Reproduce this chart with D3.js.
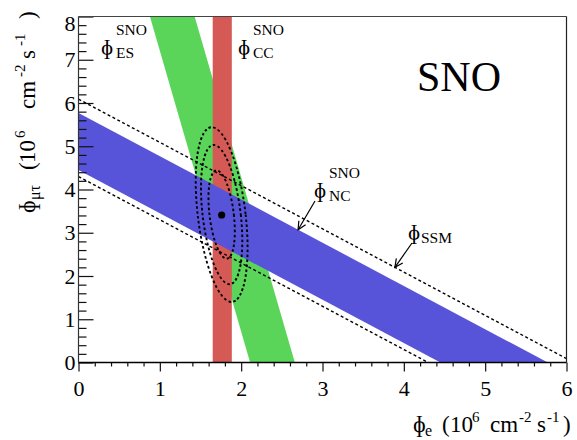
<!DOCTYPE html>
<html>
<head>
<meta charset="utf-8">
<script src="https://cdn.jsdelivr.net/npm/d3@7"></script>
<style>
  html, body { margin: 0; padding: 0; background: #fff; }
  svg { display: block; }
  svg text { font-family: "Liberation Serif", "Times New Roman", serif !important; fill: #000; }
</style>
</head>
<body>
<svg id="chart" width="577" height="440"></svg>
<script>
// ---- data (units of 10^6 cm^-2 s^-1) ----
const xDomain = [0, 6];
const yDomain = [0, 8];
const xTickValues = [0, 1, 2, 3, 4, 5, 6];
const yTickValues = [0, 1, 2, 3, 4, 5, 6, 7, 8];
const ccBand = [1.65, 1.885];          // phi_CC (vertical band in phi_e)
const esBand = [2.11, 2.66];           // phi_ES = phi_e + esWeight * phi_mutau
const esWeight = 0.154;
const ncBand = [4.45, 5.77];           // phi_NC = phi_e + phi_mutau
const ssmLines = [4.30, 6.09];         // phi_SSM band edges (phi_e + phi_mutau)
const bestFit = [1.76, 3.41];
const contourHalfWidth = [0.15, 0.235, 0.295];
const contourHalfHeight = [1.02, 1.61, 2.02];
const contourCenter = [1.76, 3.42];
const contourShear = 0.06;             // d(phi_e)/d(phi_mutau) tilt of contours

const FONT = '"Liberation Serif", "Times New Roman", serif';
const svg = d3.select('#chart');
const x = d3.scaleLinear().domain(xDomain).range([78.5, 566.5]);
const y = d3.scaleLinear().domain(yDomain).range([362.5, 16.5]);

const colGreen = '#5ad55a', colRed = '#d55a56', colBlue = '#5854d9';

svg.append('clipPath').attr('id', 'plotclip')
  .append('rect').attr('x', x(0)).attr('y', y(8)).attr('width', x(6) - x(0)).attr('height', y(0) - y(8));

const plot = svg.append('g').attr('clip-path', 'url(#plotclip)');
const pts = arr => arr.map(p => [x(p[0]), y(p[1])].join(',')).join(' ');

// ES band (green)
plot.append('polygon').attr('fill', colGreen).attr('points', pts([
  [esBand[0], 0], [esBand[1], 0],
  [esBand[1] - esWeight * 8, 8], [esBand[0] - esWeight * 8, 8]
]));
// CC band (red)
plot.append('rect').attr('fill', colRed)
  .attr('x', x(ccBand[0])).attr('width', x(ccBand[1]) - x(ccBand[0]))
  .attr('y', y(8)).attr('height', y(0) - y(8));
// NC band (blue)
plot.append('polygon').attr('fill', colBlue).attr('points', pts([
  [0, ncBand[1]], [ncBand[1], 0], [ncBand[0], 0], [0, ncBand[0]]
]));
// SSM dashed lines
ssmLines.forEach(s => {
  plot.append('line')
    .attr('x1', x(0)).attr('y1', y(s)).attr('x2', x(s)).attr('y2', y(0))
    .attr('stroke', '#000').attr('stroke-width', 1.4).attr('stroke-dasharray', '3,2.5');
});
// contours
const kx = x(1) - x(0), ky = y(0) - y(1);
const skew = Math.atan(contourShear * kx / ky) * 180 / Math.PI;
contourHalfWidth.forEach((a, i) => {
  const b = contourHalfHeight[i];
  plot.append('ellipse')
    .attr('transform', `translate(${x(contourCenter[0])},${y(contourCenter[1])}) skewX(${skew})`)
    .attr('rx', a * kx).attr('ry', b * ky)
    .attr('fill', 'none').attr('stroke', '#000').attr('stroke-width', 1.9)
    .attr('stroke-dasharray', '2.6,2.4');
});
plot.append('circle').attr('cx', x(bestFit[0])).attr('cy', y(bestFit[1])).attr('r', 3.6).attr('fill', '#000');

// ---- axes ----
const minorX = d3.range(0, 30).map(i => i * 0.2).filter((v, i) => i % 5 !== 0);
const minorY = d3.range(0, 40).map(i => i * 0.2).filter((v, i) => i % 5 !== 0);
const fmt = d3.format('d');

const gx = svg.append('g').attr('transform', `translate(0,${y(0)})`)
  .call(d3.axisBottom(x).tickValues(xTickValues).tickFormat(fmt).tickSize(9).tickPadding(9).tickSizeOuter(0));
gx.attr('font-family', FONT).attr('font-size', 22);
gx.select('.domain').remove();
gx.selectAll('text').style('font-family', FONT).style('font-size', '22px');
svg.append('g').attr('transform', `translate(0,${y(0)})`)
  .call(d3.axisBottom(x).tickValues(minorX).tickSize(4).tickFormat('').tickSizeOuter(0))
  .select('.domain').remove();

const gy = svg.append('g').attr('transform', `translate(${x(0)},0)`)
  .call(d3.axisLeft(y).tickValues(yTickValues).tickFormat(fmt).tickSize(-15).tickPadding(3).tickSizeOuter(0));
gy.attr('font-family', FONT).attr('font-size', 22);
gy.select('.domain').remove();
gy.selectAll('text').style('font-family', FONT).style('font-size', '22px');
gy.selectAll('.tick').filter(d => d === 8).select('text').attr('transform', 'translate(0,7)');
svg.append('g').attr('transform', `translate(${x(0)},0)`)
  .call(d3.axisLeft(y).tickValues(minorY).tickSize(-8).tickFormat('').tickSizeOuter(0))
  .select('.domain').remove();

svg.selectAll('.tick line').attr('stroke', '#111').attr('stroke-width', 1.2);

// axis lines and frame
svg.append('line').attr('x1', x(0)).attr('x2', x(6)).attr('y1', y(0)).attr('y2', y(0)).attr('stroke', '#000').attr('stroke-width', 1.3);
svg.append('line').attr('x1', x(0)).attr('x2', x(0)).attr('y1', y(0)).attr('y2', y(8)).attr('stroke', '#333').attr('stroke-width', 1.2);
svg.append('line').attr('x1', x(0)).attr('x2', x(6)).attr('y1', y(8)).attr('y2', y(8)).attr('stroke', '#444').attr('stroke-width', 1.2);
svg.append('line').attr('x1', x(6)).attr('x2', x(6)).attr('y1', y(8)).attr('y2', y(0)).attr('stroke', '#222').attr('stroke-width', 1.2);

// ---- axis titles ----
const phi = '\u0278';
function piece(g, p) {
  return g.append('text').attr('x', p[0]).attr('y', p[1]).style('font-family', FONT).style('font-size', p[3] + 'px').text(p[2]);
}
// x title
const xt = svg.append('g').attr('transform', 'translate(413,432)');
[
  [0, 0, phi, 23], [12, 4, 'e', 16], [29, 0, '(', 23], [37, 0, '10', 23], [59, -10, '6', 15],
  [77, 0, 'cm', 23], [106, -10, '-2', 15], [124, 0, 's', 23], [134, -10, '-1', 15], [150, 0, ')', 23]
].forEach(p => piece(xt, p));
// y title
const yt = svg.append('g').attr('transform', 'translate(35,213) rotate(-90)');
[
  [0, 0, phi, 23], [13, 5, '\u03BC\u03C4', 16], [43, 0, '(', 23], [50, 0, '10', 23], [75, -10, '6', 15],
  [104, 0, 'cm', 23], [136, -10, '-2', 15], [154, 0, 's', 23], [167, -10, '-1', 15], [194, 0, ')', 23]
].forEach(p => piece(yt, p));

// ---- labels ----
piece(svg, [417, 91, 'SNO', 42]);

function fluxLabel(px, py, sub, sup, subDx) {
  const g = svg.append('g');
  piece(g, [px, py, phi, 22]);
  piece(g, [px + subDx, py + 4, sub, 15.5]);
  if (sup) piece(g, [px + subDx, py - 19, sup, 15.5]);
}
fluxLabel(101, 54, 'ES', 'SNO', 15);
fluxLabel(238, 54, 'CC', 'SNO', 15);
fluxLabel(314, 197, 'NC', 'SNO', 15);
fluxLabel(408, 239, 'SSM', null, 13);

function arrow(x0, y0, x1, y1) {
  const ang = Math.atan2(y1 - y0, x1 - x0), L = 9, h = 0.45;
  const a1 = [x1 - L * Math.cos(ang - h), y1 - L * Math.sin(ang - h)];
  const a2 = [x1 - L * Math.cos(ang + h), y1 - L * Math.sin(ang + h)];
  svg.append('line').attr('x1', x0).attr('y1', y0).attr('x2', x1).attr('y2', y1).attr('stroke', '#000').attr('stroke-width', 1.2);
  svg.append('polyline').attr('points', `${a1} ${x1},${y1} ${a2}`).attr('fill', 'none').attr('stroke', '#000').attr('stroke-width', 1.2);
}
// NC arrow to top edge of NC band, SSM arrow to upper SSM line
const ncTx = 2.70, ssmTx = 3.89;
arrow(315, 201, x(ncTx), y(ncBand[1] - ncTx));
arrow(412, 243, x(ssmTx), y(ssmLines[1] - ssmTx));
</script>
</body>
</html>
